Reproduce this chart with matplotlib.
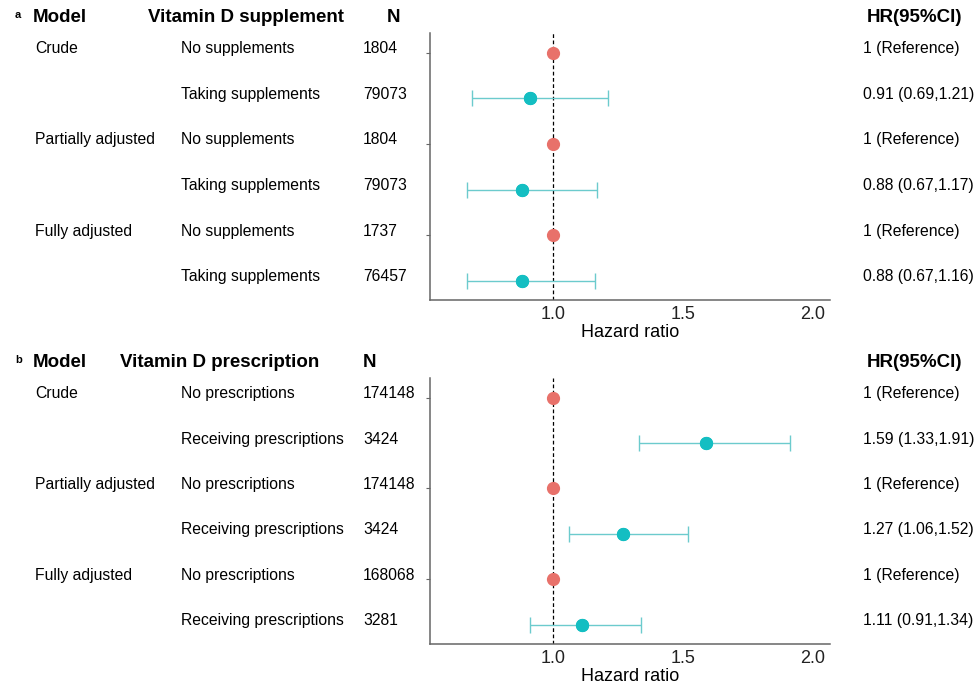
import matplotlib
matplotlib.use("Agg")
import matplotlib.pyplot as plt
import matplotlib.transforms as mtransforms

plt.rcParams['font.family'] = ['Liberation Sans', 'DejaVu Sans']

# panel a: vitamin D supplement
a_models = ["Crude", "", "Partially adjusted", "", "Fully adjusted", ""]
a_groups = ["No supplements", "Taking supplements"] * 3
a_n = ["1804", "79073", "1804", "79073", "1737", "76457"]
a_hr = [1.0, 0.91, 1.0, 0.88, 1.0, 0.88]
a_lo = [None, 0.69, None, 0.67, None, 0.67]
a_hi = [None, 1.21, None, 1.17, None, 1.16]
a_txt = ["1 (Reference)", "0.91 (0.69,1.21)", "1 (Reference)",
         "0.88 (0.67,1.17)", "1 (Reference)", "0.88 (0.67,1.16)"]

# panel b: vitamin D prescription
b_models = ["Crude", "", "Partially adjusted", "", "Fully adjusted", ""]
b_groups = ["No prescriptions", "Receiving prescriptions"] * 3
b_n = ["174148", "3424", "174148", "3424", "168068", "3281"]
b_hr = [1.0, 1.59, 1.0, 1.27, 1.0, 1.11]
b_lo = [None, 1.33, None, 1.06, None, 0.91]
b_hi = [None, 1.91, None, 1.52, None, 1.34]
b_txt = ["1 (Reference)", "1.59 (1.33,1.91)", "1 (Reference)",
         "1.27 (1.06,1.52)", "1 (Reference)", "1.11 (0.91,1.34)"]

ticks_x = [1.0, 1.5, 2.0]
RED = "#E8716A"
TEAL = "#14BEC2"
W, H = 978, 692
FS = 11.3

fig = plt.figure(figsize=(W / 100, H / 100), dpi=100)


def panel(top, bottom, letter, head_top, grp_head, grp_x, n_head_x,
          models, groups, ns, hr, lo, hi, txt):
    l, b = 430 / W, 1 - bottom / H
    ax = fig.add_axes([l, b, 400 / W, (bottom - top) / H])
    rows = list(range(1, len(hr) + 1))
    for r, h, a, c in zip(rows, hr, lo, hi):
        if a is None:
            ax.plot(h, r, 'o', color=RED, ms=8.5, zorder=3)
        else:
            ax.errorbar(h, r, xerr=[[h - a], [c - h]], fmt='o', color=TEAL,
                        ms=8.5, elinewidth=1, capsize=6, capthick=1,
                        ecolor="#6CCBCD", zorder=3)
            ax.plot(h, r, 'o', color=TEAL, ms=8.5, zorder=4)
    ax.axvline(1.0, color='black', lw=0.9, ls=(0, (3, 2)), zorder=1)
    ax.set_xlim(0.527, 2.065)
    ax.set_ylim(6.42, 0.57)
    ax.set_xticks(ticks_x)
    ax.set_xticklabels([f"{t:.1f}" for t in ticks_x], fontsize=13, color="#222222")
    ax.set_yticks([1, 3, 5])
    ax.set_yticklabels([])
    ax.tick_params(axis='x', length=0, pad=4)
    ax.tick_params(axis='y', length=3, color="#666666", width=0.8)
    ax.set_xlabel("Hazard ratio", fontsize=13, labelpad=1)
    for s in ["top", "right"]:
        ax.spines[s].set_visible(False)
    for s in ["left", "bottom"]:
        ax.spines[s].set_color("#666666")
        ax.spines[s].set_linewidth(1.1)

    # text rows sit a few pixels above the marker rows
    tr = mtransforms.blended_transform_factory(fig.transFigure, ax.transData)
    tr = tr + mtransforms.ScaledTranslation(0, 4 / 100, fig.dpi_scale_trans)
    for r, m, g, n, t in zip(rows, models, groups, ns, txt):
        ax.text(35 / W, r, m, transform=tr, fontsize=FS, va='center', ha='left')
        ax.text(181 / W, r, g, transform=tr, fontsize=FS, va='center', ha='left')
        ax.text(363 / W, r, n, transform=tr, fontsize=FS, va='center', ha='left')
        ax.text(863 / W, r, t, transform=tr, fontsize=FS, va='center', ha='left')

    hy = 1 - head_top / H
    fig.text(15 / W, hy + 0.004, letter, fontsize=8, fontweight='bold', va='center')
    fig.text(33 / W, hy, "Model", fontsize=13.5, fontweight='bold', va='center')
    fig.text(grp_x / W, hy, grp_head, fontsize=13.5, fontweight='bold', va='center')
    fig.text(n_head_x / W, hy, "N", fontsize=13.5, fontweight='bold', va='center')
    fig.text(962 / W, hy, "HR(95%CI)", fontsize=13.5, fontweight='bold',
             va='center', ha='right')
    return ax


panel(33, 300, "a", 18, "Vitamin D supplement", 148, 387,
      a_models, a_groups, a_n, a_hr, a_lo, a_hi, a_txt)
panel(378, 644, "b", 363, "Vitamin D prescription", 120, 363,
      b_models, b_groups, b_n, b_hr, b_lo, b_hi, b_txt)

fig.savefig("out.png", dpi=100, facecolor="white")
